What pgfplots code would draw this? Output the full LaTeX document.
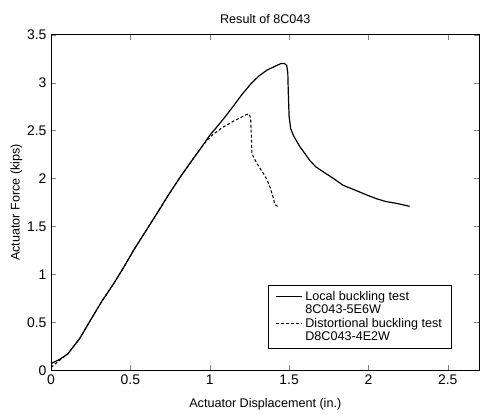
\documentclass[border=0pt]{standalone}
\usepackage{pgfplots}
\pgfplotsset{compat=1.18}
\usepackage{fontspec}
\setmainfont{Liberation Sans}
\begin{document}
\begin{tikzpicture}
\begin{axis}[
  scale only axis,
  width=323pt, height=253pt,
  xmin=0, xmax=2.7, ymin=0, ymax=3.5,
  xtick={0,0.5,1,1.5,2,2.5},
  ytick={0,0.5,1,1.5,2,2.5,3,3.5},
  tick align=inside,
  major tick length=4pt,
  /pgf/number format/assume math mode=true,
  tick label style={font=\fontsize{10.5}{12}\selectfont},
  label style={font=\fontsize{9.5}{11}\selectfont},
  title style={font=\fontsize{9.5}{11}\selectfont, inner sep=10.5pt, yshift=-8pt},
  title={Result of 8C043},
  xlabel={Actuator Displacement (in.)},
  ylabel={Actuator Force (kips)},
  xlabel style={yshift=-3pt},
  ylabel style={inner sep=8pt, yshift=-8pt},
  axis line style={line width=0.8pt},
  legend cell align=left,
  legend style={at={(0.935,0.065)}, anchor=south east,
    font=\fontsize{9.5}{10.5}\selectfont, draw=black, line width=0.6pt,
    inner ysep=2pt, inner xsep=5pt, row sep=-2pt},
  legend image code/.code={\draw[#1] (0cm,0cm) -- (0.7cm,0cm);},
]
\addplot[black, line width=0.9pt] coordinates {
(0,0.07) (0.05,0.11) (0.105,0.17) (0.18,0.33) (0.251,0.53) (0.32,0.72)
(0.397,0.91) (0.46,1.08) (0.523,1.26) (0.6,1.46) (0.669,1.64) (0.74,1.83)
(0.816,2.02) (0.88,2.17) (0.941,2.31) (1.0,2.45) (1.046,2.54) (1.1,2.65)
(1.151,2.76) (1.2,2.87) (1.255,2.98) (1.31,3.07) (1.36,3.13) (1.41,3.17)
(1.45,3.20) (1.47,3.20) (1.485,3.18) (1.492,3.10) (1.495,2.9) (1.5,2.65)
(1.51,2.52) (1.53,2.44) (1.569,2.33) (1.6,2.26) (1.63,2.19) (1.67,2.12)
(1.715,2.07) (1.78,2.00) (1.84,1.93) (1.9,1.89) (1.987,1.83) (2.05,1.79)
(2.11,1.76) (2.18,1.74) (2.26,1.71)
};
\addlegendentry{Local buckling test}
\addlegendimage{empty legend}
\addlegendentry{8C043-5E6W}
\addplot[black, line width=0.8pt, dash pattern=on 2.2pt off 1.6pt] coordinates {
(0,0.03) (0.05,0.10) (0.105,0.17) (0.18,0.33) (0.251,0.53) (0.32,0.72)
(0.397,0.91) (0.46,1.08) (0.523,1.26) (0.6,1.46) (0.669,1.64) (0.74,1.83)
(0.816,2.02) (0.88,2.17) (0.941,2.31) (0.983,2.40) (1.02,2.46) (1.046,2.49)
(1.077,2.53) (1.11,2.56) (1.151,2.60) (1.2,2.64) (1.234,2.67) (1.25,2.67)
(1.258,2.62) (1.262,2.45) (1.266,2.26) (1.28,2.21) (1.30,2.15) (1.339,2.05)
(1.36,1.99) (1.38,1.91) (1.40,1.80) (1.41,1.73) (1.427,1.71)
};
\addlegendentry{Distortional buckling test}
\addlegendimage{empty legend}
\addlegendentry{D8C043-4E2W}
\end{axis}
\end{tikzpicture}
\end{document}
